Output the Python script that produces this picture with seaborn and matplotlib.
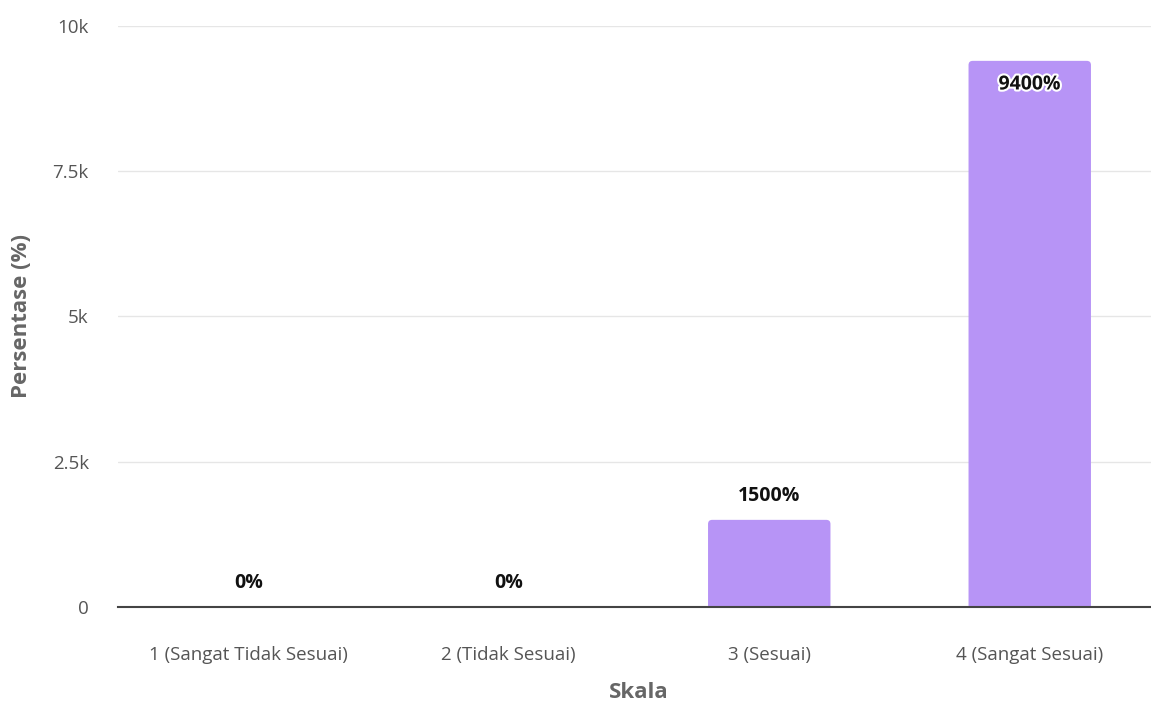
import matplotlib
matplotlib.use("Agg")
import matplotlib.pyplot as plt
import matplotlib.patheffects as pe
from matplotlib.patches import FancyBboxPatch
import seaborn as sns
import pandas as pd

# chart data
categories = ["1 (Sangat Tidak Sesuai)", "2 (Tidak Sesuai)", "3 (Sesuai)", "4 (Sangat Sesuai)"]
values = [0, 0, 1500, 9400]
y_ticks = [0, 2500, 5000, 7500, 10000]
y_tick_labels = ["0", "2.5k", "5k", "7.5k", "10k"]

df = pd.DataFrame({"Skala": categories, "Persentase": values})

sns.set_theme(style="white")
plt.rcParams["font.family"] = ["Open Sans", "DejaVu Sans"]

fig = plt.figure(figsize=(11.51, 7.02), dpi=100)
ax = fig.add_axes([118 / 1151, 1 - 607 / 702, (1160 - 118) / 1151, (607 - 26) / 702])

sns.barplot(data=df, x="Skala", y="Persentase", color="#b794f6", saturation=1,
            width=0.47, ax=ax, zorder=3)

ax.set_ylim(0, 10000)

# swap the plain bars for ones with slightly rounded top corners
bar_color = "#b794f6"
aspect = (10000 / 581) * 260.5  # data-y per pixel / data-x per pixel
for p in list(ax.patches):
    x, w, h = p.get_x(), p.get_width(), p.get_height()
    p.remove()
    if h <= 0:
        continue
    extra = 80  # push the bottom corners below the axis so they get clipped
    ax.add_patch(FancyBboxPatch((x, -extra), w, h + extra,
                                boxstyle="round,pad=0,rounding_size=0.016",
                                mutation_aspect=aspect, facecolor=bar_color,
                                edgecolor="none", zorder=3))

ax.set_yticks(y_ticks)
ax.set_yticklabels(y_tick_labels)
ax.grid(axis="y", color="#e6e6e6", linewidth=1, zorder=0)
for s in ["top", "right", "left"]:
    ax.spines[s].set_visible(False)
ax.spines["bottom"].set_color("#444444")
ax.spines["bottom"].set_linewidth(1.5)
ax.spines["bottom"].set_zorder(4)
ax.tick_params(axis="both", length=0, labelsize=13.5, labelcolor="#555555")
ax.tick_params(axis="y", pad=21)
ax.tick_params(axis="x", pad=28)

ax.set_xlabel("Skala", fontsize=16, fontweight="bold", color="#666666", labelpad=13)
ax.set_ylabel("Persentase (%)", fontsize=16, fontweight="bold", color="#666666")
ax.yaxis.set_label_coords(-0.083, 0.5)

# data labels
for i, v in enumerate(values):
    if v > 8000:
        ax.annotate(f"{v}%", (i, v), xytext=(0, -17), textcoords="offset points",
                    ha="center", va="center", fontsize=14, fontweight="bold", color="#111111",
                    path_effects=[pe.withStroke(linewidth=3, foreground="white")], zorder=5)
    else:
        ax.annotate(f"{v}%", (i, v), xytext=(0, 17), textcoords="offset points",
                    ha="center", va="center", fontsize=14, fontweight="bold", color="#111111",
                    zorder=5)

fig.savefig("out.png", dpi=100)
